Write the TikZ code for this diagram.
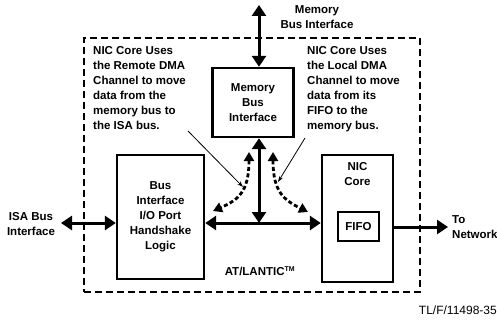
\documentclass[tikz,border=0pt]{standalone}
\usepackage{fontspec}
\setmainfont{Liberation Sans}
\usetikzlibrary{positioning,arrows.meta}

\begin{document}
\begin{tikzpicture}[x=1pt, y=-1pt,
    block/.style={draw, line width=2.4pt, align=center, font=\bfseries\fontsize{11.5}{15}\selectfont},
    chip/.style={draw, line width=2.6pt, dash pattern=on 7pt off 4pt, minimum width=336pt, minimum height=254pt},
    note/.style={align=left, inner sep=0pt, font=\bfseries\fontsize{11.5}{15}\selectfont},
    dbus/.style={line width=3pt, {Triangle[length=11pt,width=14pt]}-{Triangle[length=11pt,width=14pt]}},
    sbus/.style={line width=3pt, -{Triangle[length=11pt,width=14pt]}},
    dma/.style={line width=2.8pt, dash pattern=on 4pt off 2.5pt, {Triangle[length=9pt,width=10pt]}-{Triangle[length=9pt,width=10pt]}},
    pointer/.style={line width=0.8pt, -{Stealth[length=6pt,width=4pt]}}
  ]
    \useasboundingbox (0,0) rectangle (497,321);

    % Chip outline and blocks
    \node[chip] (chip) at (252,165) {};
    \node[block, minimum width=81pt, minimum height=69pt] (membus) at (253,102.5) {Memory\\Bus\\Interface};
    \node[block, minimum width=87pt, minimum height=124pt] (busif) at (160.5,217) {Bus\\Interface\\I/O Port\\Handshake\\Logic};
    \node[block, minimum width=71pt, minimum height=127pt] (nic) at (357.5,218.5) {};
    \node[note, align=center, below=8pt of nic.north] (niclabel) {NIC\\Core};
    \node[block, minimum width=41pt, minimum height=29pt] (fifo) at (358.5,226.5) {FIFO};

    % Outside labels
    \node[note, align=center] (memtext) at (317,17) {Memory\\Bus Interface};
    \node[note, align=center] (isatext) at (31,224) {ISA Bus\\Interface};
    \node[note, anchor=west] (nettext) at (452,227) {To\\Network};
    \node[note, anchor=north west] (leftnote) at (93,46) {NIC Core Uses\\the Remote DMA\\Channel to move\\data from the\\memory bus to\\the ISA bus.};
    \node[note, anchor=north west] (rightnote) at (307,46) {NIC Core Uses\\the Local DMA\\Channel to move\\data from its\\FIFO to the\\memory bus.};
    \node[note] (chipname) at (260,271) {AT/LANTIC\textsuperscript{\scriptsize TM}};
    \node[note, anchor=east, font=\fontsize{12}{15}\selectfont] (figref) at (497,310) {TL/F/11498-35};

    % Bus end points
    \coordinate (memend) at (259,5);
    \coordinate (hbus) at (259,223);
    \coordinate (isaend) at (61,223);
    \coordinate (netend) at (448,227);

    % Buses
    \draw[dbus] (memend) -- (membus.north -| memend);
    \draw[dbus] (membus.south -| hbus) -- (hbus);
    \draw[dbus] (busif.east |- hbus) -- (nic.west |- hbus);
    \draw[dbus] (isaend) -- (busif.west |- isaend);
    \draw[sbus] (nic.east |- netend) -- (netend);

    % DMA channels
    \coordinate (ltop) at (249,152);
    \coordinate (lend) at (213,211);
    \coordinate (rtop) at (273,152);
    \coordinate (rend) at (308,212);
    \draw[dma] (ltop) .. controls (249,192) and (238,200) .. (lend);
    \draw[dma] (rtop) .. controls (273,192) and (284,200) .. (rend);

    % Note pointers
    \coordinate (lfrom) at (188,131);
    \coordinate (lto) at (243,187);
    \coordinate (rfrom) at (305,138);
    \coordinate (rto) at (278,182);
    \draw[pointer] (lfrom) -- (lto);
    \draw[pointer] (rfrom) -- (rto);
\end{tikzpicture}
\end{document}
